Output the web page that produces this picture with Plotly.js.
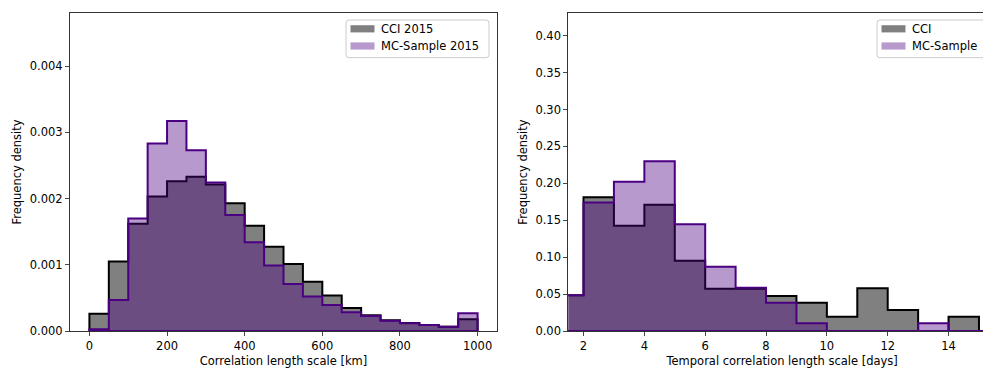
<!DOCTYPE html>
<html>
<head>
<meta charset="utf-8">
<script src="https://cdn.plot.ly/plotly-3.0.1.min.js"></script>
<style>
html,body{margin:0;padding:0;overflow:hidden;background:#fff;}
#chart{width:1000px;height:368px;}
</style>
</head>
<body>
<div id="chart"></div>
<script>
// ---------- data ----------
const kmEdges = [0,50,100,150,200,250,300,350,400,450,500,550,600,650,700,750,800,850,900,950,1000];
const cciKm = [0.00026,0.00105,0.00162,0.00203,0.00226,0.00233,0.00221,0.00193,0.00159,0.00127,
               0.00101,0.000745,0.000534,0.000348,0.000237,0.000162,0.000121,0.000091,0.000065,0.000176];
const mcKm  = [0.000025,0.000468,0.00170,0.00283,0.00317,0.00273,0.00224,0.00175,0.00134,0.000987,
               0.00071,0.000519,0.000393,0.000282,0.000227,0.000156,0.000116,0.000091,0.000065,0.000267];

const cciDayEdges = [1,2,3,4,5,6,7,8,9,10,11,12,13,14,15];
const cciDays = [0.0483,0.181,0.1427,0.171,0.0952,0.0573,0.0573,0.0474,0.0384,0.0194,0.0578,0.0284,0,0.0194];
const mcDayEdges = [1,2,3,4,5,6,7,8,9,10,11,12,13,14,15,16];
const mcDays = [0.0483,0.174,0.202,0.230,0.1445,0.0871,0.0587,0.0384,0.0104,0,0,0,0.0104,0,0];

const kmTicks = [0,200,400,600,800,1000];
const kmYTicks = [0,0.001,0.002,0.003,0.004];
const dayTicks = [2,4,6,8,10,12,14];
const dayYTicks = [0,0.05,0.10,0.15,0.20,0.25,0.30,0.35,0.40];

const legendLeft = ['CCI 2015','MC-Sample 2015'];
const legendRight = ['CCI','MC-Sample'];

// ---------- styling ----------
const FONT = 'DejaVu Sans, sans-serif';
const FS = 11.5;
const GRAY = '#808080';
const MCFILL = 'rgba(75,0,130,0.4)';
const INDIGO = '#4b0082';
const W = 1000, H = 368;
const ML = 70, MR = 4, MT = 13, MB = 37;
const PW = W - ML - MR, PH = H - MT - MB;

function stepPoly(edges, vals){
  const x=[edges[0]], y=[0];
  for(let i=0;i<vals.length;i++){ x.push(edges[i], edges[i+1]); y.push(vals[i], vals[i]); }
  x.push(edges[vals.length]); y.push(0);
  x.push(edges[0]); y.push(0);
  return {x,y};
}
function histTrace(edges, vals, fill, lineColor, xa, ya){
  const p = stepPoly(edges, vals);
  return {type:'scatter', mode:'lines', x:p.x, y:p.y, xaxis:xa, yaxis:ya,
    fill:'toself', fillcolor:fill, line:{color:lineColor, width:2, shape:'linear'},
    hoverinfo:'skip', showlegend:false};
}

const traces = [
  histTrace(kmEdges, cciKm, GRAY, '#000', 'x', 'y'),
  histTrace(kmEdges, mcKm, MCFILL, INDIGO, 'x', 'y'),
  histTrace(cciDayEdges, cciDays, GRAY, '#000', 'x2', 'y2'),
  histTrace(mcDayEdges, mcDays, MCFILL, INDIGO, 'x2', 'y2')
];

const axBase = {
  showgrid:false, zeroline:false, showline:true, mirror:true, linecolor:'#333', linewidth:1,
  ticks:'outside', ticklen:4, tickwidth:0.9, tickcolor:'#333',
  tickfont:{family:FONT, size:FS, color:'#000'}
};
const titleFont = {family:FONT, size:FS, color:'#000'};

// pixel -> paper helpers
const px = v => (v - ML) / PW;
const py = v => (H - MB - v) / PH;

function roundRect(x0,y0,x1,y1,r){
  const X=px, Y=py;
  return `M${X(x0+r)},${Y(y0)} L${X(x1-r)},${Y(y0)} Q${X(x1)},${Y(y0)} ${X(x1)},${Y(y0+r)} `+
         `L${X(x1)},${Y(y1-r)} Q${X(x1)},${Y(y1)} ${X(x1-r)},${Y(y1)} `+
         `L${X(x0+r)},${Y(y1)} Q${X(x0)},${Y(y1)} ${X(x0)},${Y(y1-r)} `+
         `L${X(x0)},${Y(y0+r)} Q${X(x0)},${Y(y0)} ${X(x0+r)},${Y(y0)} Z`;
}

const shapes = [], annotations = [];
function addLegend(boxL, boxR, labels){
  shapes.push({type:'path', xref:'paper', yref:'paper', path:roundRect(boxL,20,boxR,57.7,3),
    fillcolor:'rgba(255,255,255,0.8)', line:{color:'#cccccc', width:1}, layer:'above'});
  const rows=[28.8,46.0], cols=[GRAY,'rgb(183,153,205)'];
  for(let i=0;i<2;i++){
    shapes.push({type:'rect', xref:'paper', yref:'paper', x0:px(boxL+4.5), x1:px(boxL+28.5),
      y0:py(rows[i]-3.6), y1:py(rows[i]+3.6), fillcolor:cols[i], line:{width:0}, layer:'above'});
    annotations.push({xref:'paper', yref:'paper', x:px(boxL+34), y:py(rows[i]), xanchor:'left', yanchor:'middle',
      text:labels[i], showarrow:false, font:{family:FONT, size:FS, color:'#000'}, borderpad:0});
  }
}
addLegend(346, 489, legendLeft);
addLegend(877, 991, legendRight);

const layout = {
  width:W, height:H, margin:{l:ML, r:MR, t:MT, b:MB},
  paper_bgcolor:'#fff', plot_bgcolor:'#fff', showlegend:false,
  xaxis:Object.assign({}, axBase, {domain:[0, 427/PW], range:[-50,1050], tickvals:kmTicks,
    title:{text:'Correlation length scale [km]', font:titleFont, standoff:6}}),
  yaxis:Object.assign({}, axBase, {domain:[0,1], range:[0,0.0048], tickvals:kmYTicks, tickformat:'.3f',
    title:{text:'Frequency density', font:titleFont, standoff:5}}),
  xaxis2:Object.assign({}, axBase, {domain:[(568.3-ML)/PW, 1], anchor:'y2', range:[1.5, 15.56], tickvals:dayTicks,
    title:{text:'Temporal correlation length scale [days]', font:titleFont, standoff:6}}),
  yaxis2:Object.assign({}, axBase, {domain:[0,1], anchor:'x2', range:[0,0.4307], tickvals:dayYTicks, tickformat:'.2f',
    title:{text:'Frequency density', font:titleFont, standoff:5}}),
  shapes:shapes, annotations:annotations
};

Plotly.newPlot('chart', traces, layout, {staticPlot:true, displayModeBar:false});
</script>
</body>
</html>
